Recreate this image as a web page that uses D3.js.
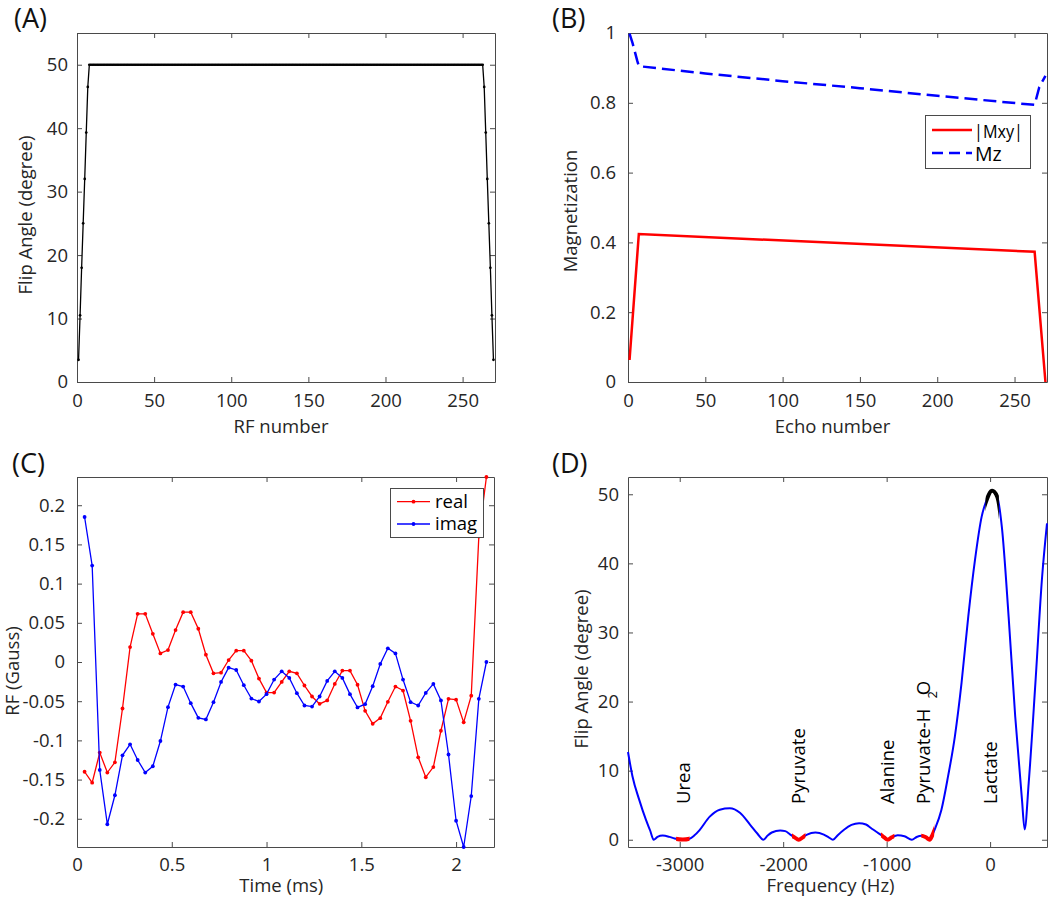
<!DOCTYPE html>
<html>
<head>
<meta charset="utf-8">
<script src="https://cdn.jsdelivr.net/npm/d3@7"></script>
<style>
  body { margin: 0; background: #fff; }
  text { font-family: "Open Sans", sans-serif; }
</style>
</head>
<body>
<div id="fig"></div>
<script>
// ---- (A) flip angle schedule ----
var rampUpDeg = [3.5, 10.5, 18, 25, 32, 39.3, 46.5];
var plateauDeg = 50;
var plateauFirst = 8;
var plateauLast = 263;
var rampDownDeg = [46.5, 39.3, 32, 25, 18, 10.5, 3.5];

// ---- (B) magnetization ----
var echoMxy = [1, 7, 263, 270];
var mxy = [0.063, 0.424, 0.373, 0];
var echoMz = [1, 3, 6, 7, 50, 100, 150, 200, 263, 266, 270];
var mz = [0.998, 0.97, 0.92, 0.905, 0.884, 0.862, 0.842, 0.82, 0.794, 0.845, 0.877];

// ---- (C) RF waveform ----
var timeMs = [0.04, 0.08, 0.12, 0.16, 0.2, 0.24, 0.28, 0.32, 0.36, 0.4, 0.44, 0.48,
  0.52, 0.56, 0.6, 0.64, 0.68, 0.72, 0.76, 0.8, 0.84, 0.88, 0.92, 0.96, 1, 1.04,
  1.08, 1.12, 1.16, 1.2, 1.24, 1.28, 1.32, 1.36, 1.4, 1.44, 1.48, 1.52, 1.56, 1.6,
  1.64, 1.68, 1.72, 1.76, 1.8, 1.84, 1.88, 1.92, 1.96, 2, 2.04, 2.08, 2.12, 2.16];
var rfReal = [-0.14, -0.154, -0.1156, -0.141, -0.128, -0.0593, 0.019, 0.0614, 0.0614,
  0.036, 0.011, 0.0152, 0.0407, 0.0635, 0.0635, 0.0424, 0.0093, -0.0144, -0.0136,
  0.0025, 0.0144, 0.0144, 0.0017, -0.0212, -0.039, -0.039, -0.0254, -0.0119, -0.0144,
  -0.03, -0.044, -0.0534, -0.049, -0.028, -0.011, -0.011, -0.029, -0.0623, -0.0788,
  -0.0716, -0.0508, -0.0313, -0.0364, -0.075, -0.1216, -0.147, -0.134, -0.0877,
  -0.047, -0.048, -0.077, -0.043, 0.16, 0.236];
var rfImag = [0.185, 0.123, -0.1377, -0.207, -0.17, -0.119, -0.105, -0.125, -0.141,
  -0.133, -0.1008, -0.0576, -0.0288, -0.0313, -0.0525, -0.0712, -0.0733, -0.0512,
  -0.0254, -0.0072, -0.0102, -0.0296, -0.0466, -0.0504, -0.041, -0.0224, -0.0119,
  -0.0203, -0.0398, -0.0555, -0.0568, -0.044, -0.0241, -0.0119, -0.0203, -0.041,
  -0.058, -0.0538, -0.0309, -0.0025, 0.0175, 0.011, -0.0224, -0.0512, -0.0555,
  -0.0394, -0.028, -0.049, -0.118, -0.2025, -0.236, -0.171, -0.047, 0];

// ---- (D) spectral profile ----
var freqHz = [-3500, -3457, -3392, -3327, -3285, -3252, -3215, -3165, -3100, -3050,
  -2970, -2905, -2860, -2808, -2710, -2613, -2516, -2418, -2321, -2250, -2191, -2150,
  -2110, -2029, -1980, -1931, -1890, -1850, -1810, -1769, -1688, -1607, -1560, -1519,
  -1470, -1412, -1340, -1266, -1200, -1152, -1100, -1055, -1020, -990, -950, -893,
  -828, -756, -710, -665, -620, -584, -560, -536, -471, -406, -341, -276, -211, -146,
  -81, -40, 20, 70, 114, 179, 243, 308, 334, 373, 438, 503, 550];
var flipDeg = [12.7, 9.2, 5.8, 2.9, 1.3, 0, 0.4, 0.6, 0.42, 0.18,
  0.02, 0.15, 0.6, 1.4, 3.35, 4.35, 4.55, 3.9, 2.2, 0.9, 0, 0.6,
  1.05, 1.35, 1.25, 0.75, 0.35, 0, 0.35, 0.75, 1.05, 0.75, 0.35, 0,
  0.7, 1.45, 2.15, 2.4, 2.2, 1.7, 1.15, 0.7, 0.3, 0, 0.35, 0.65,
  0.5, 0, 0.4, 0.58, 0.35, 0, 0.6, 1.45, 4.3, 9.2, 14.9, 22.7, 32.3, 40.5,
  46.8, 48.9, 50.5, 49.6, 45.2, 32.3, 17.8, 5.8, 1.5, 8.2, 22.7, 38.1, 45.8];
var metaboliteNames = ["Urea", "Pyruvate", "Alanine", "Pyruvate-H", "Lactate"];
var metaboliteHz = [-2970, -1850, -990, -650, 0];
var stopbandLo = [-3035, -1915, -1055, -665];
var stopbandHi = [-2905, -1785, -925, -540];
var passbandLo = -45;
var passbandHi = 85;

var axisColor = "#4a4a4a";
var textColor = "#262626";
var fontSize = "18.5px";

const svg = d3.select("#fig").append("svg").attr("width", 1050).attr("height", 897);
svg.append("rect").attr("width", 1050).attr("height", 897).attr("fill", "#fff");

function drawAxes(frame, x, y, xTicks, yTicks, xPad, yPad) {
  const fmt = (d) => String(d);
  const g = svg.append("g");
  g.append("g")
    .attr("transform", `translate(0,${frame.bottom})`)
    .call(d3.axisBottom(x).tickValues(xTicks).tickSizeInner(-5).tickSizeOuter(0).tickPadding(xPad).tickFormat(fmt));
  g.append("g")
    .attr("transform", `translate(0,${frame.top})`)
    .call(d3.axisTop(x).tickValues(xTicks).tickSizeInner(-5).tickSizeOuter(0).tickFormat(""));
  g.append("g")
    .attr("transform", `translate(${frame.left},0)`)
    .call(d3.axisLeft(y).tickValues(yTicks).tickSizeInner(-5).tickSizeOuter(0).tickPadding(yPad).tickFormat(fmt));
  g.append("g")
    .attr("transform", `translate(${frame.right},0)`)
    .call(d3.axisRight(y).tickValues(yTicks).tickSizeInner(-5).tickSizeOuter(0).tickFormat(""));
  g.selectAll(".domain, .tick line").attr("stroke", axisColor);
  g.selectAll(".tick text")
    .attr("fill", textColor)
    .style("font-size", fontSize)
    .style("font-family", '"Open Sans", sans-serif');
}

function label(x, y, txt, rotate, size) {
  return svg.append("text")
    .attr("transform", `translate(${x},${y})` + (rotate ? " rotate(-90)" : ""))
    .attr("text-anchor", "middle")
    .attr("fill", textColor)
    .style("font-size", size || fontSize)
    .text(txt);
}

function panelTag(x, y, txt) {
  svg.append("text").attr("x", x).attr("y", y).attr("fill", "#111").style("font-size", "27px").text(txt);
}

/*************    (A)   *************/
var rfNumber = [];
var rfFlip = [];
rampUpDeg.forEach((v, i) => { rfNumber.push(i + 1); rfFlip.push(v); });
for (let n = plateauFirst; n <= plateauLast; n++) { rfNumber.push(n); rfFlip.push(plateauDeg); }
rampDownDeg.forEach((v, i) => { rfNumber.push(plateauLast + 1 + i); rfFlip.push(v); });
var dataA = rfNumber.map((n, i) => ({ n: n, v: rfFlip[i] }));

var frameA = { left: 77, right: 495, top: 33, bottom: 382 };
var xA = d3.scaleLinear().domain([0, 271]).range([frameA.left, frameA.right]);
var yA = d3.scaleLinear().domain([0, 55]).range([frameA.bottom, frameA.top]);
drawAxes(frameA, xA, yA, [0, 50, 100, 150, 200, 250], [0, 10, 20, 30, 40, 50], 12, 9);

svg.append("path")
  .datum(dataA)
  .attr("fill", "none")
  .attr("stroke", "#000")
  .attr("stroke-width", 1.3)
  .attr("d", d3.line().x((d) => xA(d.n)).y((d) => yA(d.v)));
svg.append("g").selectAll("circle")
  .data(dataA)
  .join("circle")
  .attr("cx", (d) => xA(d.n))
  .attr("cy", (d) => yA(d.v))
  .attr("r", 1.35)
  .attr("fill", "#000");

label(281, 432.7, "RF number");
label(31.5, 215, "Flip Angle (degree)", true);
panelTag(14, 28, "(A)");

/*************    (B)   *************/
var frameB = { left: 628, right: 1047, top: 33, bottom: 382 };
var xB = d3.scaleLinear().domain([0, 271]).range([frameB.left, frameB.right]);
var yB = d3.scaleLinear().domain([0, 1]).range([frameB.bottom, frameB.top]);
drawAxes(frameB, xB, yB, [0, 50, 100, 150, 200, 250], [0, 0.2, 0.4, 0.6, 0.8, 1], 12, 12);

svg.append("path")
  .datum(echoMxy.map((n, i) => ({ n: n, v: mxy[i] })))
  .attr("fill", "none")
  .attr("stroke", "#ff0000")
  .attr("stroke-width", 2.5)
  .attr("d", d3.line().x((d) => xB(d.n)).y((d) => yB(d.v)));
svg.append("path")
  .datum(echoMz.map((n, i) => ({ n: n, v: mz[i] })))
  .attr("fill", "none")
  .attr("stroke", "#0000ff")
  .attr("stroke-width", 2.5)
  .attr("stroke-dasharray", "13,6")
  .attr("d", d3.line().x((d) => xB(d.n)).y((d) => yB(d.v)));

var legB = svg.append("g");
legB.append("rect").attr("x", 925.5).attr("y", 115.5).attr("width", 105).attr("height", 53)
  .attr("fill", "#fff").attr("stroke", axisColor);
legB.append("line").attr("x1", 932).attr("x2", 972).attr("y1", 130).attr("y2", 130)
  .attr("stroke", "#ff0000").attr("stroke-width", 2.5);
legB.append("line").attr("x1", 932).attr("x2", 972).attr("y1", 153).attr("y2", 153)
  .attr("stroke", "#0000ff").attr("stroke-width", 2.5).attr("stroke-dasharray", "11,6");
legB.append("text").attr("x", 974).attr("y", 137.5).attr("fill", "#000").style("font-size", "19px")
  .attr("textLength", 49).attr("lengthAdjust", "spacingAndGlyphs").text("|Mxy|");
legB.append("text").attr("x", 975).attr("y", 160.5).attr("fill", "#000").style("font-size", "19.5px").text("Mz");

label(832.5, 432.7, "Echo number");
label(577, 211, "Magnetization", true);
panelTag(552, 28, "(B)");

/*************    (C)   *************/
var frameC = { left: 77, right: 494, top: 477, bottom: 847 };
var xC = d3.scaleLinear().domain([0, 2.2]).range([frameC.left, frameC.right]);
var yC = d3.scaleLinear().domain([-0.236, 0.236]).range([frameC.bottom, frameC.top]);
drawAxes(frameC, xC, yC, [0, 0.5, 1, 1.5, 2],
  [-0.2, -0.15, -0.1, -0.05, 0, 0.05, 0.1, 0.15, 0.2], 10.5, 12);

[{ vals: rfReal, color: "#ff0000" }, { vals: rfImag, color: "#0000ff" }].forEach(function (s) {
  var pts = timeMs.map((t, i) => ({ t: t, v: s.vals[i] }));
  svg.append("path")
    .datum(pts)
    .attr("fill", "none")
    .attr("stroke", s.color)
    .attr("stroke-width", 1.3)
    .attr("d", d3.line().x((d) => xC(d.t)).y((d) => yC(d.v)));
  svg.append("g").selectAll("circle")
    .data(pts)
    .join("circle")
    .attr("cx", (d) => xC(d.t))
    .attr("cy", (d) => yC(d.v))
    .attr("r", 1.9)
    .attr("fill", s.color);
});

var legC = svg.append("g");
legC.append("rect").attr("x", 390.5).attr("y", 488.5).attr("width", 93).attr("height", 49)
  .attr("fill", "#fff").attr("stroke", axisColor);
[["real", "#ff0000", 501.7], ["imag", "#0000ff", 524]].forEach(function (e) {
  legC.append("line").attr("x1", 397).attr("x2", 430).attr("y1", e[2]).attr("y2", e[2])
    .attr("stroke", e[1]).attr("stroke-width", 1.3);
  legC.append("circle").attr("cx", 413.5).attr("cy", e[2]).attr("r", 1.9).attr("fill", e[1]);
  legC.append("text").attr("x", 435).attr("y", e[2] + 6).attr("fill", "#000").style("font-size", "18.5px").text(e[0]);
});

label(281.3, 892, "Time (ms)");
label(18.5, 671, "RF (Gauss)", true);
panelTag(12, 473, "(C)");

/*************    (D)   *************/
var frameD = { left: 628, right: 1047, top: 477, bottom: 847 };
var xD = d3.scaleLinear().domain([-3500, 550]).range([frameD.left, frameD.right]);
var yD = d3.scaleLinear().domain([-1.05, 52.5]).range([frameD.bottom, frameD.top]);
drawAxes(frameD, xD, yD, [-3000, -2000, -1000, 0], [0, 10, 20, 30, 40, 50], 10.5, 9);

var dataD = freqHz.map((f, i) => ({ f: f, v: flipDeg[i] }));
var lineD = d3.line().curve(d3.curveMonotoneX).x((d) => xD(d.f)).y((d) => yD(d.v));

var defs = svg.append("defs");
function bandClip(id, lo, hi) {
  defs.append("clipPath").attr("id", id)
    .append("rect")
    .attr("x", xD(lo)).attr("width", xD(hi) - xD(lo))
    .attr("y", frameD.top - 10).attr("height", frameD.bottom - frameD.top + 20);
}

svg.append("path")
  .datum(dataD)
  .attr("fill", "none")
  .attr("stroke", "#0000ff")
  .attr("stroke-width", 2)
  .attr("d", lineD);

stopbandLo.forEach(function (lo, i) {
  bandClip("stop" + i, lo, stopbandHi[i]);
  svg.append("path")
    .datum(dataD)
    .attr("fill", "none")
    .attr("stroke", "#ff0000")
    .attr("stroke-width", 4)
    .attr("clip-path", `url(#stop${i})`)
    .attr("d", lineD);
});
bandClip("pass", passbandLo, passbandHi);
svg.append("path")
  .datum(dataD)
  .attr("fill", "none")
  .attr("stroke", "#000")
  .attr("stroke-width", 4)
  .attr("clip-path", "url(#pass)")
  .attr("d", lineD);

// metabolite names, written upward
metaboliteNames.forEach(function (name, i) {
  var t = svg.append("text")
    .attr("transform", `translate(${xD(metaboliteHz[i])},804) rotate(-90)`)
    .attr("dy", "0.36em")
    .attr("fill", "#000")
    .style("font-size", fontSize)
    .text(name);
  if (name == "Pyruvate-H") {
    t.append("tspan").attr("dx", 10).attr("dy", 7).style("font-size", "13px").text("2");
    t.append("tspan").attr("dx", -4).attr("dy", -7).text("O");
  }
});

label(830.5, 892, "Frequency (Hz)");
label(588, 669, "Flip Angle (degree)", true);
panelTag(552, 473, "(D)");
</script>
</body>
</html>
